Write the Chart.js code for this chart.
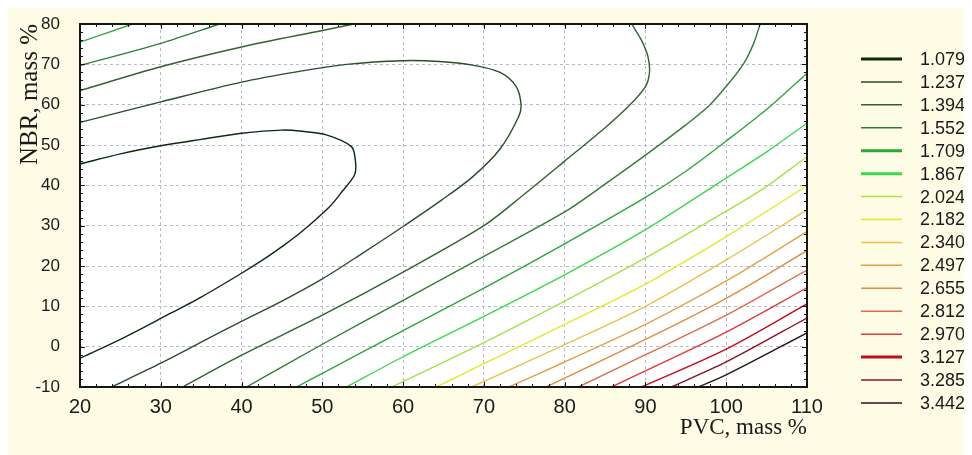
<!DOCTYPE html>
<html>
<head>
    <title>Contour plot NBR / PVC</title>
    <script src="https://cdn.jsdelivr.net/npm/chart.js"></script>
    <style>
        body {
            margin: 8px;
            background: #ffffff;
        }
        #wrap {
            width: 964px;
            height: 447px;
        }
    </style>
</head>
<body>
    <div id="wrap">
        <canvas id="contourChart" width="964" height="447"></canvas>
    </div>

    <script>
        // contour levels (legend order)
        const levels = ['1.079', '1.237', '1.394', '1.552', '1.709', '1.867', '2.024', '2.182',
                        '2.340', '2.497', '2.655', '2.812', '2.970', '3.127', '3.285', '3.442'];

        // x/y axis ticks
        const xTicks = [20, 30, 40, 50, 60, 70, 80, 90, 100, 110];
        const yTicks = [-10, 0, 10, 20, 30, 40, 50, 60, 70, 80];

        // contour lines, [PVC, NBR]
        const c1079 = [[20,45.3],[25,47.8],[30,49.8],[35,51.4],[40,52.9],[45,53.7],[47.5,53.4],[50.5,52.5],
                       [53.6,49.6],[54.1,46],[54,42.6],[52.5,38.6],[50.9,34.7],[47.2,28.1],[45,24.8],
                       [43,22],[40,18.2],[35,12.3],[30,7],[25,1.8],[20,-2.9]];
        const c1237 = [[20,55.6],[30,60.7],[40,65.6],[47,68.2],[53,70],[60,70.9],[64.5,70.7],[68.6,69.8],
                       [72,68],[74,64.5],[74.6,60],[74.3,57],[72,49],[68.6,42.1],[64.8,36.4],[60,29.8],
                       [55,23.2],[50,16.8],[45,11.3],[40,6.3],[35,1.1],[30,-4.1],[23.9,-10]];
        const c1394a = [[20,63.5],[30,69.4],[40,74.3],[50,78.4],[53.9,80]];
        const c1394b = [[88.3,80],[89.5,76],[90.3,72],[90.5,68],[90,64.5],[88,59.8],[85,54.3],[80,46],
                        [75,37.8],[70,30],[60,18.5],[50,7.8],[40,-2.1],[32.7,-10]];
        const c1552a = [[20,69.7],[30,75.2],[37.3,80]];
        const c1552b = [[104.2,80],[103.4,75.2],[102.2,70.3],[100.4,65.5],[98,60],[95,55],[90,47.5],
                        [85,40.3],[80,33.4],[70,22.4],[60,11.5],[50,0.6],[40.6,-10]];
        const c1709a = [[20,75.5],[26.5,80]];
        const c1709b = [[110,67.8],[105.4,59.5],[100,51],[95,43.5],[90,37],[80,25.5],[70,14.5],[60,4],
                        [50,-6.6],[46.8,-10]];
        const c1867 = [[110,55.4],[105,48.3],[100,41.8],[90,29],[80,17.8],[70,7.5],[60,-2.5],[53,-10]];
        const c2024 = [[110,47.1],[104.3,38.8],[96.5,29.5],[90,22],[80,11.3],[70,1],[58.6,-10]];
        const c2182 = [[110,39.9],[100,27.3],[90,15.5],[80,5.5],[70,-4.2],[64.1,-10]];
        const c2340 = [[110,33.9],[100,21.5],[90,10],[80,0.5],[68.5,-10]];
        const c2497 = [[110,28.5],[100,16.3],[90,5.5],[80,-3.8],[73.1,-10]];
        const c2655 = [[110,23.8],[100,12],[90,1.8],[77.7,-10]];
        const c2812 = [[110,19],[100,7.8],[90,-2],[81.7,-10]];
        const c2970 = [[110,14.6],[100,3.6],[90,-6],[85.8,-10]];
        const c3127 = [[110,10.6],[100,-0.6],[89.5,-10]];
        const c3285 = [[110,7.1],[100,-3.8],[93.2,-10]];
        const c3442 = [[110,3.4],[100,-7],[96.5,-10]];

        // which level each line piece belongs to
        const pieces = [
            [0, c1079], [1, c1237], [2, c1394a], [2, c1394b], [3, c1552a], [3, c1552b],
            [4, c1709a], [4, c1709b], [5, c1867], [6, c2024], [7, c2182], [8, c2340],
            [9, c2497], [10, c2655], [11, c2812], [12, c2970], [13, c3127], [14, c3285], [15, c3442]
        ];

        const levelColors = ['#0e2a0e', '#2a4d2a', '#2f632f', '#2f7d35', '#2ea63c', '#3fd64a',
                             '#a8e04a', '#e2e82a', '#e6c24e', '#e2a044', '#e08a44', '#e06c4c',
                             '#dc3c3c', '#c40c1c', '#8e1026', '#2a1414'];
        const legendWidths = [3, 1.5, 1.5, 1.5, 3, 3, 1.5, 1.5, 1.5, 1.5, 1.5, 1.5, 1.5, 3, 1.5, 1.5];

        const framePlugin = {
            id: 'frame',
            beforeDraw(chart) {
                const {ctx, chartArea: a} = chart;
                ctx.save();
                ctx.fillStyle = '#fefce5';
                ctx.fillRect(0, 0, chart.width, chart.height);
                ctx.fillStyle = '#ffffff';
                ctx.fillRect(a.left, a.top, a.right - a.left, a.bottom - a.top);
                ctx.restore();
            },
            afterDatasetsDraw(chart) {
                const {ctx, chartArea: a, scales} = chart;
                ctx.save();
                ctx.strokeStyle = '#151515';
                ctx.lineWidth = 1;
                ctx.beginPath();
                for (let v = 20; v <= 110; v += 2) {
                    const px = Math.round(scales.x.getPixelForValue(v)) + 0.5;
                    const len = v % 10 === 0 ? 5 : 3;
                    ctx.moveTo(px, a.bottom); ctx.lineTo(px, a.bottom - len);
                    ctx.moveTo(px, a.top); ctx.lineTo(px, a.top + len);
                }
                for (let v = -10; v <= 80; v += 2) {
                    const py = Math.round(scales.y.getPixelForValue(v)) + 0.5;
                    const len = v % 10 === 0 ? 5 : 3;
                    ctx.moveTo(a.left, py); ctx.lineTo(a.left + len, py);
                    ctx.moveTo(a.right, py); ctx.lineTo(a.right - len, py);
                }
                ctx.stroke();
                ctx.lineWidth = 2;
                ctx.strokeRect(a.left, a.top, a.right - a.left, a.bottom - a.top);
                ctx.restore();
            },
            afterDraw(chart) {
                // level legend on the right
                const {ctx, chartArea: a} = chart;
                ctx.save();
                ctx.font = '18px "Liberation Sans", Arial, sans-serif';
                ctx.textBaseline = 'middle';
                levels.forEach((lv, i) => {
                    const y = a.top + 35 + i * 22.93;
                    ctx.strokeStyle = levelColors[i];
                    ctx.lineWidth = legendWidths[i];
                    ctx.beginPath();
                    ctx.moveTo(a.right + 54, y);
                    ctx.lineTo(a.right + 95, y);
                    ctx.stroke();
                    ctx.fillStyle = '#1a1a1a';
                    ctx.fillText(lv, a.right + 113, y + 1);
                });
                ctx.restore();
            }
        };

        Chart.defaults.font.family = '"Liberation Sans", Arial, sans-serif';
        Chart.defaults.color = '#1a1a1a';

        const ctx = document.getElementById('contourChart').getContext('2d');
        const contourChart = new Chart(ctx, {
            type: 'scatter',
            data: {
                datasets: pieces.map(([i, pts]) => ({
                    label: levels[i],
                    data: pts.map(p => ({x: p[0], y: p[1]})),
                    showLine: true,
                    borderColor: levelColors[i],
                    borderWidth: 1.4,
                    pointRadius: 0,
                    tension: 0.3,
                    fill: false
                }))
            },
            options: {
                responsive: false,
                animation: false,
                events: [],
                layout: {
                    padding: {top: 16, right: 165, left: 0, bottom: 0}
                },
                plugins: {
                    legend: {display: false},
                    tooltip: {enabled: false}
                },
                scales: {
                    x: {
                        type: 'linear',
                        min: 20,
                        max: 110,
                        afterBuildTicks: (scale) => { scale.ticks = xTicks.map(v => ({value: v})); },
                        afterFit: (scale) => { scale.height = 68; },
                        ticks: {padding: 2, font: {size: 20}},
                        grid: {color: '#b9b9c6', drawTicks: true, tickLength: 6, tickColor: 'rgba(0,0,0,0)', lineWidth: 1},
                        border: {display: false, dash: [3, 3]},
                        title: {
                            display: true,
                            text: 'PVC, mass %',
                            align: 'end',
                            color: '#1a1a1a',
                            font: {family: '"Liberation Serif", "Times New Roman", serif', size: 23},
                            padding: {bottom: 13}
                        }
                    },
                    y: {
                        type: 'linear',
                        min: -10,
                        max: 80,
                        afterBuildTicks: (scale) => { scale.ticks = yTicks.map(v => ({value: v})); },
                        afterFit: (scale) => { scale.width = 72; },
                        ticks: {padding: 3, font: {size: 17}},
                        grid: {color: '#b9b9c6', drawTicks: true, tickLength: 17, tickColor: 'rgba(0,0,0,0)', lineWidth: 1},
                        border: {display: false, dash: [3, 3]},
                        title: {
                            display: true,
                            text: 'NBR, mass %',
                            align: 'end',
                            color: '#1a1a1a',
                            font: {family: '"Liberation Serif", "Times New Roman", serif', size: 25},
                            padding: {top: 7}
                        }
                    }
                }
            },
            plugins: [framePlugin]
        });
    </script>
</body>
</html>
